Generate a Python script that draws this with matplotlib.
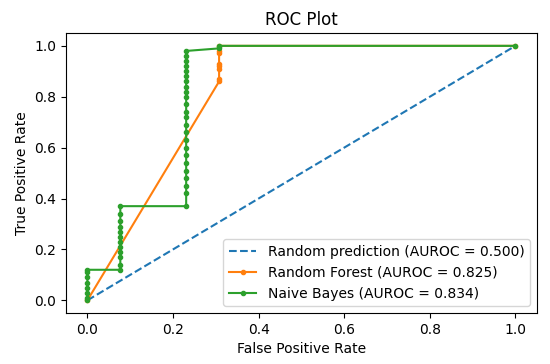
import matplotlib
matplotlib.use('Agg')
import matplotlib.pyplot as plt

# random guess
r_fpr = [0, 1]
r_tpr = [0, 1]

# random forest
rf_fpr = [0, 4/13, 4/13, 4/13, 4/13, 4/13, 4/13, 4/13, 4/13, 1]
rf_tpr = [0, 0.86, 0.87, 0.91, 0.92, 0.93, 0.97, 0.98, 1.0, 1.0]

# naive bayes
nb_fpr = [0, 0, 0, 0, 0, 0, 0, 0,
          1/13, 1/13, 1/13, 1/13, 1/13, 1/13, 1/13, 1/13, 1/13, 1/13, 1/13, 1/13,
          3/13, 3/13, 3/13, 3/13, 3/13, 3/13, 3/13, 3/13, 3/13, 3/13, 3/13, 3/13,
          3/13, 3/13, 3/13, 3/13, 3/13, 3/13, 3/13, 3/13, 3/13, 3/13, 3/13, 3/13,
          4/13, 4/13, 1]
nb_tpr = [0, 0.01, 0.03, 0.05, 0.07, 0.09, 0.11, 0.12,
          0.12, 0.14, 0.17, 0.19, 0.21, 0.23, 0.25, 0.27, 0.29, 0.31, 0.34, 0.37,
          0.37, 0.42, 0.45, 0.48, 0.51, 0.54, 0.57, 0.60, 0.63, 0.66, 0.69, 0.72,
          0.74, 0.77, 0.80, 0.82, 0.84, 0.86, 0.88, 0.90, 0.92, 0.94, 0.96, 0.98,
          0.99, 1.0, 1.0]

r_auc = 0.500
rf_auc = 0.825
nb_auc = 0.834

fig = plt.figure(figsize=(5.5, 3.64), dpi=100)
plt.subplots_adjust(left=0.12, right=0.976, top=0.909, bottom=0.14)

plt.plot(r_fpr, r_tpr, linestyle='--', label='Random prediction (AUROC = %0.3f)' % r_auc)
plt.plot(rf_fpr, rf_tpr, marker='.', label='Random Forest (AUROC = %0.3f)' % rf_auc)
plt.plot(nb_fpr, nb_tpr, marker='.', label='Naive Bayes (AUROC = %0.3f)' % nb_auc)

plt.title('ROC Plot')
plt.xlabel('False Positive Rate')
plt.ylabel('True Positive Rate')
plt.legend(loc='lower right')

plt.savefig('out.png')
